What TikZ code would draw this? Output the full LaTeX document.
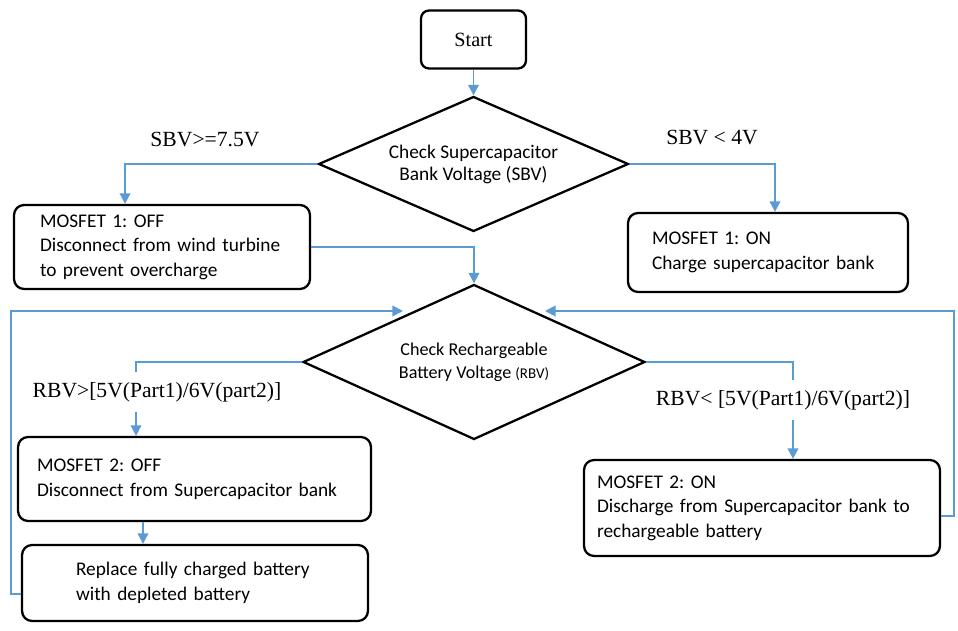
\documentclass[tikz,border=0pt]{standalone}
\usepackage{fontspec}
\setmainfont{Liberation Serif}
\newfontfamily\calibri{Carlito}
\usepackage{tikz}
\usetikzlibrary{arrows.meta,shapes.geometric,calc}
\definecolor{flowblue}{RGB}{91,155,213}
\frenchspacing

\begin{document}
\begin{tikzpicture}[
    x=0.02cm, y=-0.02cm,
    box/.style={rectangle, draw, rounded corners=0.2cm, line width=1.3pt, align=left, font=\calibri\fontsize{11}{14}\selectfont},
    decision/.style={diamond, draw, line width=1.3pt, aspect=2.3, inner sep=0pt, align=center, font=\calibri\fontsize{11}{12.5}\selectfont},
    arrow/.style={-{Triangle[length=6pt,width=6pt]}, flowblue, line width=1.1pt},
    cond/.style={font=\fontsize{12.3}{14}\selectfont, inner sep=1pt}
]
  \useasboundingbox (0,0) rectangle (958,631);

  % Nodes
  \node[box, align=center, rounded corners=0.16cm, minimum width=2.1cm, minimum height=1.16cm, font=\fontsize{11.5}{13}\selectfont] (start) at (473.5,39.5) {Start};
  \node[decision, minimum width=6.2cm, minimum height=2.7cm] (sbv) at (473.5,164) {Check Supercapacitor\\Bank Voltage (SBV)};
  \node[box, minimum height=1.68cm, text width=4.88cm, inner xsep=0.52cm] (mos1off) at (162,247) {MOSFET 1: OFF\\Disconnect from wind turbine\\to prevent overcharge};
  \node[box, minimum height=1.58cm, text width=4.64cm, inner xsep=0.48cm] (mos1on) at (768,252.5) {MOSFET 1: ON\\Charge supercapacitor bank};
  \node[decision, minimum width=6.84cm, minimum height=3.1cm, font=\calibri\fontsize{10.3}{13}\selectfont] (rbv) at (474,362) {Check Rechargeable\\Battery Voltage {\fontsize{8.5}{13}\selectfont(RBV)}};
  \node[box, minimum height=1.68cm, text width=6.3cm, inner xsep=0.38cm] (mos2off) at (194.5,479) {MOSFET 2: OFF\\Disconnect from Supercapacitor bank};
  \node[box, minimum height=1.52cm, text width=4.76cm, inner xsep=1.08cm] (replace) at (195,583) {Replace fully charged battery\\with depleted battery};
  \node[box, minimum height=1.92cm, text width=6.6cm, inner xsep=0.26cm] (mos2on) at (762,508) {MOSFET 2: ON\\Discharge from Supercapacitor bank to\\rechargeable battery};

  \coordinate (inL) at (403,311);
  \coordinate (inR) at (545,311);

  % Arrows
  \draw[arrow] (start) -- (sbv);
  \draw[arrow] (sbv.west) -| ([xshift=-0.74cm]mos1off.north);
  \draw[arrow] (sbv.east) -| ([xshift=0.14cm]mos1on.north);
  \draw[arrow] (mos1off.east) -| (rbv.north);
  \draw[arrow] (rbv.west) -| ([xshift=-1.17cm]mos2off.north);
  \draw[arrow] (rbv.east) -| ([xshift=0.62cm]mos2on.north);
  \draw[arrow] ([xshift=-1.03cm]mos2off.south) -- ([xshift=-1.03cm]mos2off.south |- replace.north);
  \draw[arrow] ([yshift=-0.22cm]replace.west) -- ++(-10,0) |- (inL);
  \draw[arrow] ([yshift=-0.16cm]mos2on.east) -- ++(13,0) |- (inR);

  % Conditions
  \node[cond] (sbvhigh) at (205,140) {SBV>=7.5V};
  \node[cond] (sbvlow) at (712,138) {SBV < 4V};
  \node[cond, fill=white, inner ysep=0.2cm] (rbvhigh) at (157,392) {RBV>[5V(Part1)/6V(part2)]};
  \node[cond, fill=white, inner ysep=0.2cm] (rbvlow) at (783,400) {RBV< [5V(Part1)/6V(part2)]};
\end{tikzpicture}
\end{document}
